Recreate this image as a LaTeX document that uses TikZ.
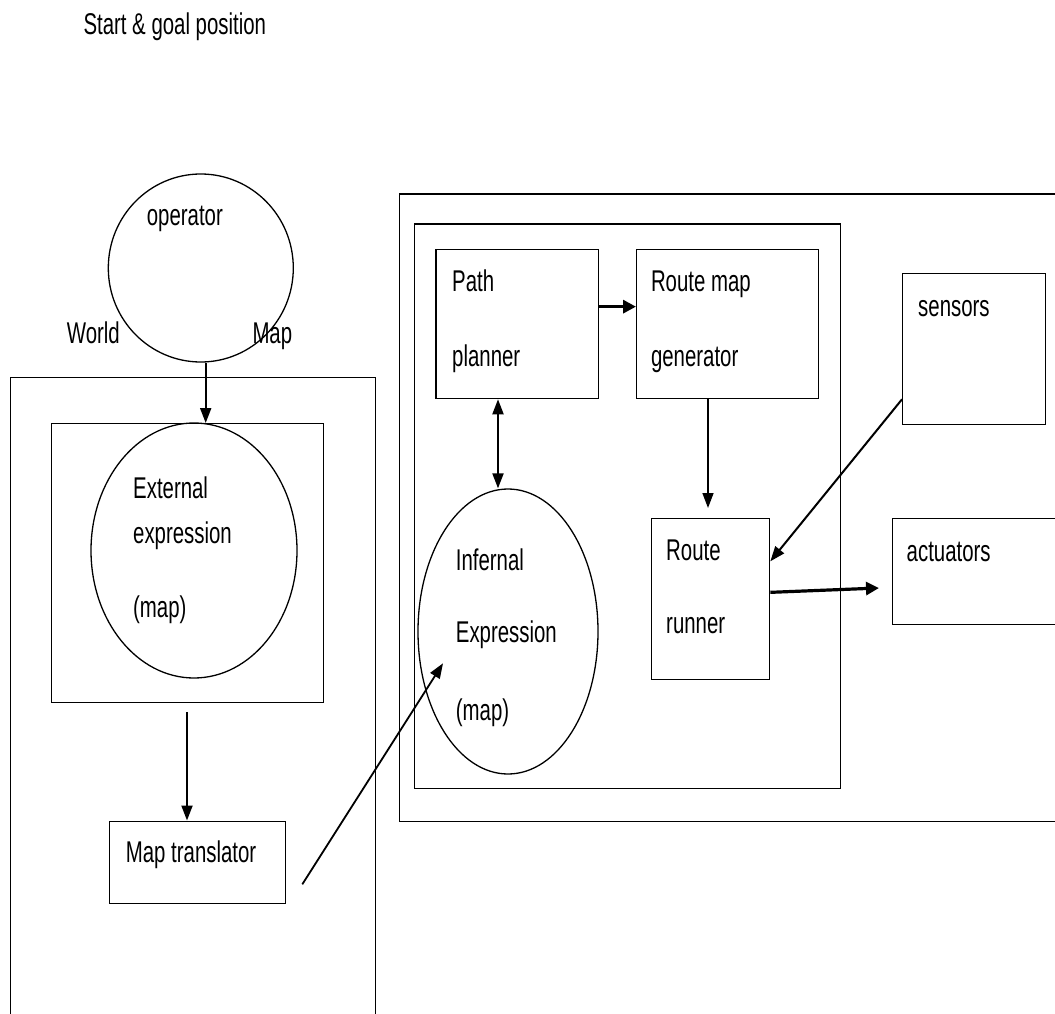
\documentclass[tikz,border=0pt]{standalone}
\usepackage{fontspec}
\setmainfont{Liberation Sans}[FakeStretch=0.68]
\usetikzlibrary{arrows.meta,shapes.geometric}
\begin{document}
\begin{tikzpicture}[x=1pt,y=-1pt,
  lbl/.style={inner sep=0pt, anchor=base west, font=\fontsize{30}{36}\selectfont},
  box/.style={draw, line width=1.3pt, inner sep=0pt, anchor=north west},
  oval/.style={draw, ellipse, line width=1.3pt, inner sep=0pt},
  arr/.style={line width=2pt, -{Triangle[length=15pt,width=11pt]}},
  dblarr/.style={line width=2pt, {Triangle[length=15pt,width=11pt]}-{Triangle[length=15pt,width=11pt]}},
  thickarr/.style={line width=3.2pt, -{Triangle[length=13pt,width=13pt]}}
]
\useasboundingbox[fill=white] (0,0) rectangle (1055,1014);
\clip (0,0) rectangle (1055,1014);

% containers
\node[box, minimum width=365pt, minimum height=700pt] (leftframe) at (10,376.7) {};
\node[box, minimum width=700pt, minimum height=627.7pt] (rightframe) at (398.5,193.3) {};
\node[box, minimum width=425.5pt, minimum height=564.7pt] (inner) at (414,223.3) {};

% left side
\node[oval, minimum width=185pt, minimum height=188pt] (operator) at (200.8,268) {};
\node[box, minimum width=272.5pt, minimum height=279pt] (extbox) at (50.5,423) {};
\node[oval, minimum width=206pt, minimum height=255pt] (extell) at (194,550.5) {};
\node[box, minimum width=176pt, minimum height=82.5pt] (maptr) at (109,820.5) {};

% right side
\node[box, minimum width=162.4pt, minimum height=149pt] (planner) at (435.4,249) {};
\node[box, minimum width=182pt, minimum height=149pt] (gen) at (636,249) {};
\node[box, minimum width=143pt, minimum height=151pt] (sensors) at (902,273) {};
\node[box, minimum width=118.3pt, minimum height=161pt] (runner) at (650.7,518) {};
\node[box, minimum width=250pt, minimum height=106pt] (act) at (891.7,518) {};
\node[oval, minimum width=180pt, minimum height=285pt] (intell) at (508,631.5) {};

% labels
\node[lbl] (t0) at (83.3,35) {Start \& goal position};
\node[lbl] (t1) at (146.7,225) {operator};
\node[lbl] (t2) at (66.7,343.3) {World};
\node[lbl] (t3) at (252.3,343.3) {Map};
\node[lbl] (t4) at (133,498) {External};
\node[lbl] (t5) at (133,543) {expression};
\node[lbl] (t6) at (133,617) {(map)};
\node[lbl] (t7) at (125.7,862.7) {Map translator};
\node[lbl] (t8) at (452,291.7) {Path};
\node[lbl] (t9) at (452,366.7) {planner};
\node[lbl] (t10) at (650.8,291.7) {Route map};
\node[lbl] (t11) at (650.8,366.7) {generator};
\node[lbl] (t12) at (918,316) {sensors};
\node[lbl] (t13) at (455.7,570) {Infernal};
\node[lbl] (t14) at (455.7,642) {Expression};
\node[lbl] (t15) at (455.7,720) {(map)};
\node[lbl] (t16) at (666,560) {Route};
\node[lbl] (t17) at (666,633) {runner};
\node[lbl] (t18) at (906.5,561.7) {actuators};

% free ends
\coordinate (a1) at (187,712);
\coordinate (a2) at (302.3,884.3);
\coordinate (a2e) at (443,663.3);
\coordinate (dx) at (498,0);
\coordinate (rx) at (708,508);
\coordinate (actin) at (879,588);

% connectors
\draw[arr] ([xshift=4.9pt]operator.south) -- ([xshift=4.9pt]operator.south |- extbox.north);
\draw[arr] (a1) -- (a1 |- maptr.north);
\draw[line width=1.8pt, -{Triangle[length=15pt,width=11pt]}] (a2) -- (a2e);
\draw[dblarr] (planner.south -| dx) -- (intell.north -| dx);
\draw[thickarr] ([yshift=17.5pt]planner.east) -- ([yshift=17.5pt]gen.west);
\draw[line width=1.5pt, -{Triangle[length=15pt,width=11pt]}] (gen.south -| rx) -- (rx);
\draw[line width=2pt, -{Triangle[length=15pt,width=11pt]}] ([yshift=26pt]sensors.south west) -- ([yshift=37.8pt]runner.east);
\draw[thickarr] ([yshift=6.8pt]runner.east) -- (actin);
\end{tikzpicture}
\end{document}
